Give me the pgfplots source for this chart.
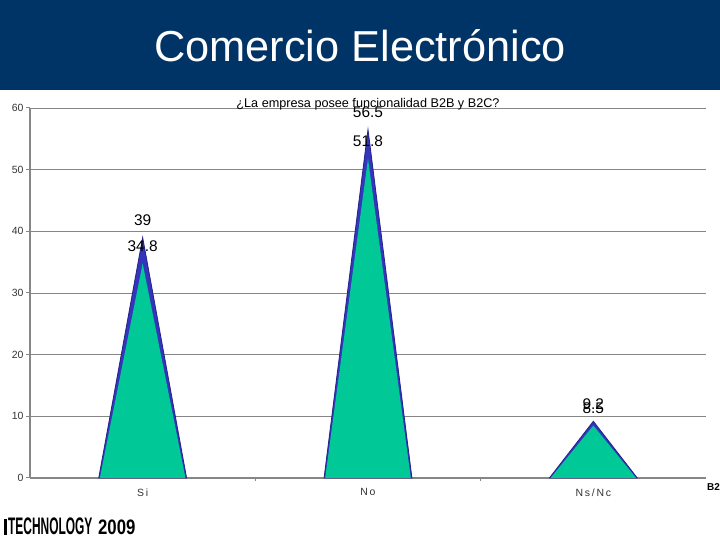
\documentclass[border=0pt]{standalone}
\usepackage{fontspec}
\setmainfont{Liberation Sans}
\usepackage{pgfplots}
\pgfplotsset{compat=1.18}

\definecolor{navy}{HTML}{003366}
\definecolor{coneG}{HTML}{00C896}
\definecolor{coneB}{HTML}{3535BC}
\definecolor{edgeB}{HTML}{22228A}
\definecolor{axisgray}{HTML}{868686}

\begin{document}
\begin{tikzpicture}
\useasboundingbox (0,0) rectangle (720bp,540bp);
% header banner
\fill[navy] (0,450bp) rectangle (720bp,540bp);
\node[text=white, font=\fontsize{43.5}{43.5}\selectfont] at (360bp,494bp) {Comercio Electrónico};

\begin{axis}[
  at={(30bp,62bp)}, anchor=south west,
  scale only axis, width=676bp, height=370bp,
  xmin=-0.5, xmax=2.5, ymin=0, ymax=60,
  axis lines*=left,
  axis line style={axisgray, line width=1.3bp},
  ytick={0,10,20,30,40,50,60},
  ymajorgrids, grid style={axisgray, line width=0.7bp},
  xtick={0,1,2}, xticklabels={S\,i, N\,o, N\,s\,/\,N\,c},
  minor xtick={0.5,1.5},
  major x tick style={draw=none},
  tick align=outside, major tick length=4bp, minor tick length=3bp,
  tick style={axisgray, line width=1bp},
  /pgf/number format/assume math mode=true,
  ticklabel style={font=\fontsize{10.5}{10.5}\selectfont, text=black!80},
  xticklabel style={yshift=-3bp},
  yticklabel style={xshift=1bp},
  title={¿La empresa posee funcionalidad B2B y B2C?},
  title style={at={(0.5,1)}, anchor=center, yshift=-2bp, font=\fontsize{12.7}{12.7}\selectfont},
  clip=false,
]
% B2B cones (behind)
\addplot[fill=coneB, draw=edgeB, line width=0.8bp] coordinates {(-0.195,0)(0,39)(0.195,0)} -- cycle;
\addplot[fill=coneB, draw=edgeB, line width=0.8bp] coordinates {(0.805,0)(1,56.5)(1.195,0)} -- cycle;
\addplot[fill=coneB, draw=edgeB, line width=0.8bp] coordinates {(1.805,0)(2,9.2)(2.195,0)} -- cycle;
% B2C cones (front)
\addplot[fill=coneG, draw=none] coordinates {(-0.19,0)(0,34.8)(0.19,0)} -- cycle;
\addplot[fill=coneG, draw=none] coordinates {(0.81,0)(1,51.8)(1.19,0)} -- cycle;
\addplot[fill=coneG, draw=none] coordinates {(1.81,0)(2,8.5)(2.19,0)} -- cycle;
% value labels
\addplot[draw=none, mark=none, nodes near coords, point meta=explicit symbolic,
  nodes near coords style={anchor=center, yshift=17bp, font=\fontsize{15.5}{15.5}\selectfont, text=black}]
  coordinates {(0,39)[39] (1,56.5)[56.5] (2,9.2)[9.2]};
\addplot[draw=none, mark=none, nodes near coords, point meta=explicit symbolic,
  nodes near coords style={anchor=center, yshift=17bp, font=\fontsize{15.5}{15.5}\selectfont, text=black}]
  coordinates {(0,34.8)[34.8] (1,51.8)[51.8] (2,8.5)[8.5]};
\end{axis}

% truncated legend and footer logo
\node[font=\bfseries\fontsize{10}{10}\selectfont, anchor=west, inner sep=0] at (707bp,53bp) {B2};
\fill[black] (4bp,5bp) rectangle (7bp,21bp);
\node[font=\bfseries\fontsize{24}{24}\selectfont, anchor=south west, inner sep=0, xscale=0.5] at (8bp,5bp) {TECHNOLOGY};
\node[font=\bfseries\fontsize{21}{21}\selectfont, anchor=south west, inner sep=0, xscale=0.8] at (98bp,5bp) {2009};
\end{tikzpicture}
\end{document}
